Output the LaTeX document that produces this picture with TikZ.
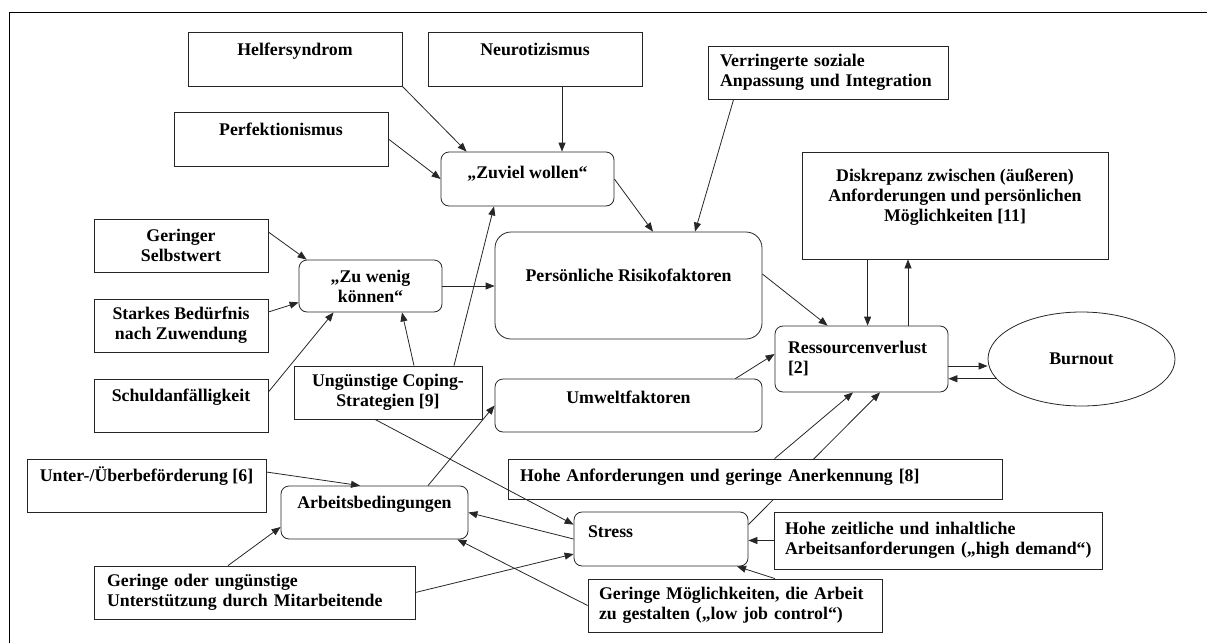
\documentclass[tikz,border=0pt]{standalone}
\usepackage{fontspec}
\setmainfont{Liberation Serif}
\usetikzlibrary{calc, arrows.meta, shapes.geometric}
\tikzset{
  boxbase/.style={draw=black!85, line width=0.8pt, fill=white, inner sep=3pt,
    font=\fontsize{17.8}{20}\selectfont\bfseries,
    execute at begin node={\hyphenpenalty=10000 }},
  sqbox/.style={boxbase, rectangle},
  rbox/.style={boxbase, rectangle, rounded corners=8pt},
  lift/.style={text height=12pt, text depth=#1},
  arr/.style={-{Triangle[length=9pt,width=7pt]}, line width=0.8pt, black!85},
}
\begin{document}
\begin{tikzpicture}[x=1pt,y=-1pt]
            \useasboundingbox (0,0) rectangle (1207,643);
            \draw[line width=0.9pt] (9,643)--(9,12)--(1207,12);

            \node[sqbox,minimum width=214pt,minimum height=54pt,lift=20pt] (helfer) at (295,59) {Helfersyndrom};
            \node[sqbox,minimum width=214pt,minimum height=54pt,lift=20pt] (perfekt) at (281,139) {Perfektionismus};
            \node[sqbox,minimum width=214pt,minimum height=54pt,lift=20pt] (neuro) at (535,59) {Neurotizismus};
            \node[rbox,minimum width=173pt,minimum height=54pt,lift=14pt] (zuviel) at (527.5,179) {„Zuviel wollen“};
            \node[sqbox,minimum width=240pt,minimum height=53pt,align=left,text width=216pt,inner xsep=12pt] (verring) at (828,72.5) {Verringerte soziale\\Anpassung~und~Integration};
            \node[sqbox,minimum width=306pt,minimum height=107pt,align=center] (diskrep) at (955,205.5) {Diskrepanz zwischen (äußeren)\\Anforderungen und persönlichen\\Möglichkeiten [11]\\\mbox{}};

            \node[sqbox,minimum width=174pt,minimum height=53pt,align=center] (selbst) at (181,245.5) {Geringer\\Selbstwert};
            \node[rbox,minimum width=143pt,minimum height=52pt,align=center] (zuwenig) at (370.5,286) {„Zu wenig\\können“};
            \node[sqbox,minimum width=174pt,minimum height=53pt,align=center] (beduerf) at (181,325.5) {Starkes Bedürfnis\\nach Zuwendung};
            \node[sqbox,minimum width=174pt,minimum height=53pt,lift=20pt] (schuld) at (181,405.5) {Schuldanfälligkeit};
            \node[sqbox,minimum width=188pt,minimum height=53pt,align=center] (coping) at (388,392.5) {Ungünstige Coping-\\Strategien [9]};

            \node[rbox,rounded corners=16pt,minimum width=267pt,minimum height=107pt,lift=20pt] (persoen) at (628.5,285.5) {Persönliche Risikofaktoren};
            \node[rbox,minimum width=267pt,minimum height=53pt,lift=17pt] (umwelt) at (628.5,405.5) {Umweltfaktoren};
            \node[rbox,minimum width=173pt,minimum height=66pt,align=left,text width=147pt,inner xsep=13pt] (ressource) at (861.5,359) {Ressourcenverlust\\{[2]}};
            \node[boxbase,ellipse,minimum width=187pt,minimum height=94pt,inner sep=0pt] (burnout) at (1081.5,359) {Burnout};

            \node[sqbox,minimum width=239pt,minimum height=53pt,lift=20pt] (unter) at (146.5,485.5) {Unter-/Überbeförderung [6]};
            \node[rbox,minimum width=187pt,minimum height=53pt,lift=21pt] (arbeit) at (374.5,512.5) {Arbeitsbedingungen};
            \node[sqbox,minimum width=321pt,minimum height=53pt,align=left,text width=295pt,inner xsep=13pt] (gerunter) at (254.5,592.5) {Geringe oder ungünstige\\Unterstützung durch Mitarbeitende};
            \node[rbox,minimum width=174pt,minimum height=54pt,align=left,text width=146pt,inner xsep=14pt,lift=16pt] (stress) at (661,539) {Stress};
            \node[sqbox,minimum width=294pt,minimum height=53pt,align=left,text width=272pt,inner xsep=11pt] (gerposs) at (735,605.5) {Geringe Möglichkeiten, die Arbeit\\zu gestalten („low job control“)};
            \node[sqbox,minimum width=328pt,minimum height=57pt,align=left,text width=306pt,inner xsep=11pt] (hohezeit) at (938,540.5) {Hohe zeitliche und inhaltliche\\Arbeitsanforderungen~(„high~demand“)};

            \draw[arr] ($(stress.north east)+(0,13)$)--($(ressource.south)+(18.5,0)$);
            \node[sqbox,minimum width=494pt,minimum height=40pt,align=left,text width=470pt,inner xsep=12pt,lift=6.6pt] (hoheanf) at (755,479) {Hohe Anforderungen und geringe Anerkennung [8]};

            \draw[arr] (helfer.south east)--($(zuviel.north west)+(26,0)$);
            \draw[arr] (perfekt.east)--(zuviel.west);
            \coordinate (n1) at ($(neuro.south)+(27,0)$);
            \draw[arr] (n1)--(n1 |- zuviel.north);
            \draw[arr] (zuviel.east)--($(persoen.north)+(24.5,0)$);
            \draw[arr] ($(verring.south west)+(26,0)$)--($(persoen.north)+(66.5,0)$);

            \draw[arr] ($(selbst.east)+(0,-13.5)$)--($(zuwenig.north west)+(8,0)$);
            \draw[arr] ($(beduerf.east)+(0,-13.5)$)--($(zuwenig.south west)+(0,-10)$);
            \draw[arr] ($(schuld.east)+(0,-13.5)$)--($(zuwenig.south west)+(35,0)$);
            \draw[arr] (zuwenig.east)--(zuwenig.east -| persoen.west);
            \draw[arr] ($(coping.north)+(26,0)$)--($(zuwenig.south)+(31.5,0)$);
            \draw[arr] ($(coping.north)+(66,0)$)--($(zuviel.south)+(-33.5,0)$);
            \draw[arr] ($(coping.south)+(-13,0)$)--($(stress.north west)+(0,13)$);
            \draw[arr] ($(arbeit.north)+(53.5,0)$)--(umwelt.west);

            \draw[arr] ($(umwelt.north east)+(-27,0)$)--($(ressource.west)+(0,-5)$);
            \draw[arr] ($(persoen.east)+(0,-11.5)$)--($(ressource.north west)+(53,0)$);
            \coordinate (d1) at ($(diskrep.south west)+(66,0)$);
            \draw[arr] (d1)--(d1 |- ressource.north);
            \coordinate (r1) at ($(ressource.north)+(46.5,0)$);
            \draw[arr] (r1)--(r1 |- diskrep.south);
            \coordinate (r2) at ($(ressource.east)+(0,7)$);
            \draw[arr] (r2)--(r2 -| burnout.west);
            \draw[arr] (burnout.193)--(burnout.193 -| ressource.east);
            \draw[arr] ($(hoheanf.north west)+(267,0)$)--($(ressource.south)+(-8.5,0)$);

            \draw[arr] ($(unter.east)+(0,-13.5)$)--($(arbeit.north)+(-14.5,0)$);
            \draw[arr] ($(gerunter.north)+(-26.5,0)$)--($(arbeit.west)+(0,14.5)$);
            \draw[arr] (gerunter.east)--($(stress.west)+(0,15)$);
            \draw[arr] (stress.west)--(arbeit.east);
            \draw[arr] (gerposs.west)--($(arbeit.south east)+(-11,0)$);
            \draw[arr] (hohezeit.west)--(hohezeit.west -| stress.east);
            \draw[arr] ($(gerposs.north)+(40,0)$)--($(stress.south)+(76,0)$);
        \end{tikzpicture}
\end{document}
